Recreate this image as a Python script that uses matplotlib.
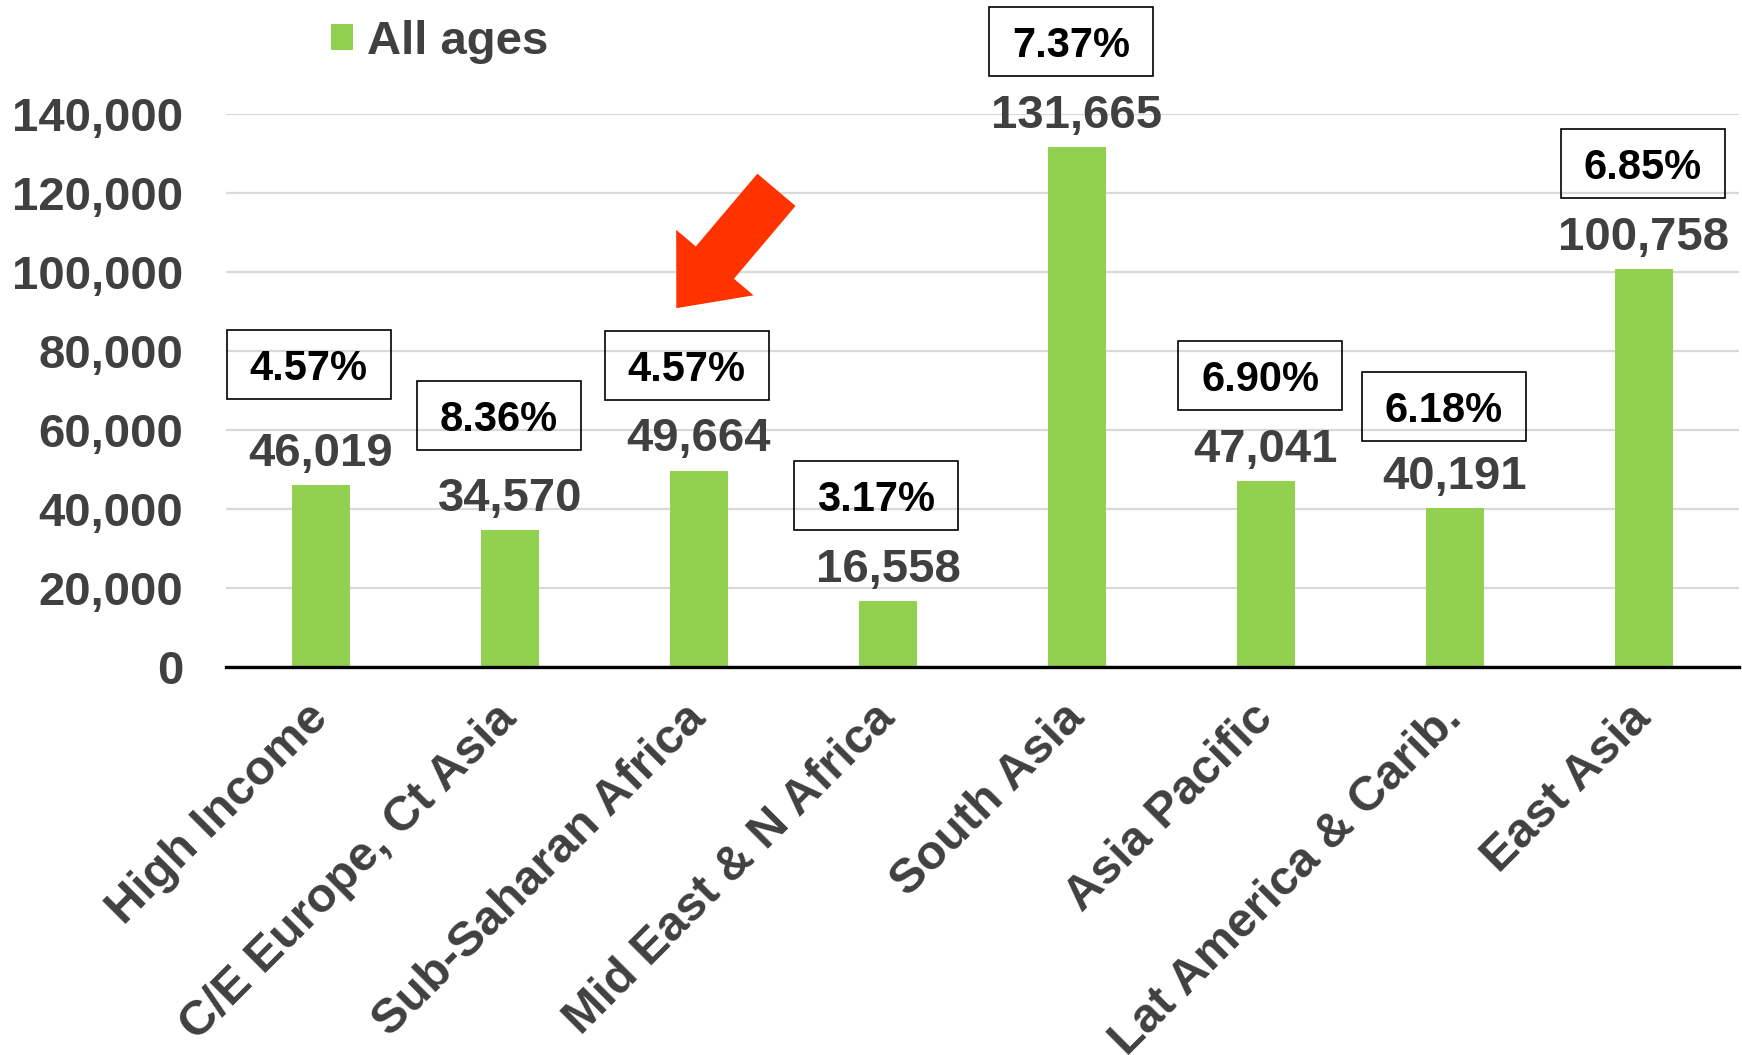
import matplotlib
matplotlib.use("Agg")
import matplotlib.pyplot as plt
import matplotlib.transforms as mtransforms
from matplotlib.patches import Rectangle, Patch, FancyArrowPatch

# Regional totals, all ages
regions = ["High Income", "C/E Europe, Ct Asia", "Sub-Saharan Africa",
           "Mid East & N Africa", "South Asia", "Asia Pacific",
           "Lat America & Carib.", "East Asia"]
all_ages = [46019, 34570, 49664, 16558, 131665, 47041, 40191, 100758]
pct_labels = ["4.57%", "8.36%", "4.57%", "3.17%", "7.37%", "6.90%", "6.18%", "6.85%"]
y_ticks = [0, 20000, 40000, 60000, 80000, 100000, 120000, 140000]

# hand placement of the percentage boxes (inches, relative to bar top)
box_dx = [-0.944, -0.933, -0.944, -0.944, -0.878, -0.878, -0.933, -0.833]
box_dy = [0.86, 0.80, 0.71, 0.71, 0.71, 0.71, 0.67, 0.71]

GREEN = "#92D050"
GREY = "#404040"
plt.rcParams['font.family'] = ['Liberation Sans', 'DejaVu Sans']
plt.rcParams['font.weight'] = 'bold'

fig = plt.figure(figsize=(17.42, 10.55), dpi=100)
ax = fig.add_axes([0.130, 0.368, 0.868, 0.5235])

x = list(range(len(regions)))
bars = ax.bar(x, all_ages, width=0.31, color=GREEN, zorder=2)

ax.set_xlim(-0.5, len(regions) - 0.5)
ax.set_ylim(0, 140000)
ax.set_yticks(y_ticks)
ax.set_yticklabels([f"{v:,}" for v in y_ticks], fontsize=34, color=GREY)
ax.yaxis.grid(True, color="#D9D9D9", linewidth=1.6, zorder=0)
ax.set_axisbelow(True)
ax.tick_params(axis="y", length=0, pad=31)
ax.tick_params(axis="x", length=0, pad=32)
ax.set_xticks(x)
ax.set_xticklabels(regions, fontsize=35, color=GREY, rotation=45,
                   ha="right", va="center", rotation_mode="anchor")
for side in ["left", "right", "top"]:
    ax.spines[side].set_visible(False)
ax.spines["bottom"].set_linewidth(2.4)
ax.spines["bottom"].set_color("black")
ax.spines["bottom"].set_zorder(3)

# value labels and boxed percentages above each bar
for xi, val, pct, dx, dy in zip(x, all_ages, pct_labels, box_dx, box_dy):
    ax.annotate(f"{val:,}", xy=(xi, val), xytext=(0, 14), textcoords="offset points",
                ha="center", va="baseline", fontsize=34, color=GREY, annotation_clip=False)
    anchor = fig.dpi_scale_trans + mtransforms.ScaledTranslation(xi, val, ax.transData)
    box = Rectangle((dx, dy), 1.64, 0.69, transform=anchor, fill=False,
                    edgecolor="black", linewidth=1.2, clip_on=False)
    ax.add_patch(box)
    ax.text(dx + 0.82, dy + 0.345, pct, transform=anchor, ha="center", va="center_baseline",
            fontsize=30, color="black")

# arrow pointing at Sub-Saharan Africa
arrow = FancyArrowPatch((2.41, 120900), (1.88, 90900),
                        arrowstyle="simple,head_length=43,head_width=73,tail_width=36",
                        mutation_scale=1, shrinkA=0, shrinkB=0,
                        color="#FF3300", linewidth=0, clip_on=False, zorder=4)
ax.add_patch(arrow)

handle = Patch(facecolor=GREEN, edgecolor="none")
leg = fig.legend(handles=[handle], labels=["All ages"], loc="center left",
                 bbox_to_anchor=(331 / 1742, 1 - 42 / 1055), frameon=False,
                 fontsize=34, handlelength=0.47, handleheight=0.47,
                 handletextpad=0.3, borderpad=0, borderaxespad=0)
for t in leg.get_texts():
    t.set_color(GREY)

fig.savefig("out.png", dpi=100)
